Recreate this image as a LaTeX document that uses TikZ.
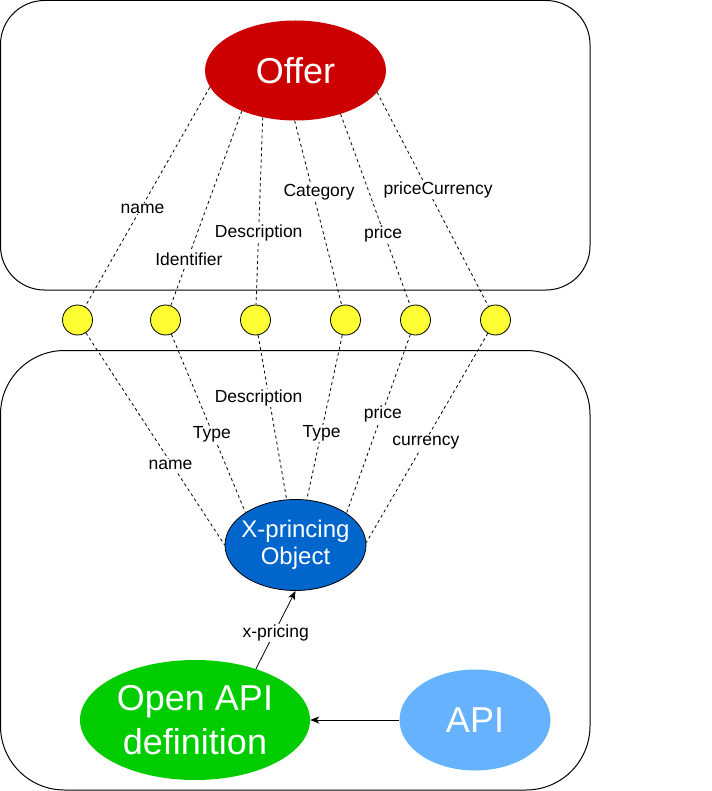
\documentclass[tikz,border=0pt]{standalone}
\usepackage{fontspec}
\setmainfont{Liberation Sans}
\usepackage{tikz}
\usetikzlibrary{shapes.geometric,arrows.meta,positioning}
\definecolor{offerred}{HTML}{CC0000}
\definecolor{pricingblue}{HTML}{0066CC}
\definecolor{openapigreen}{HTML}{00CC00}
\definecolor{apiblue}{HTML}{66B2FF}
\definecolor{dotyellow}{HTML}{FFFF33}

\begin{document}
\begin{tikzpicture}[x = 1pt, y = -1pt]
	\tikzstyle{every node} = [inner sep = 0pt]
	\tikzstyle{blob} = [ellipse, text = white, align = center]
	\tikzstyle{dot} = [circle, draw = black, fill = dotyellow, minimum size = 30pt, line width = 0.8pt]
	\tikzstyle{link} = [dash pattern = on 3pt off 3pt, line width = 0.8pt]
	\tikzstyle{lbl} = [fill = white, inner sep = 1pt, yshift = -3pt, font = \fontsize{17.5}{21}\selectfont]
	\useasboundingbox (0, 0) rectangle (711, 791);

% the two frames
	\draw[line width = 1pt, rounded corners = 44pt] (0.5, 0.5) rectangle (590, 290);
	\draw[line width = 1pt, rounded corners = 64pt] (0.5, 350.5) rectangle (590, 790);

\node[blob, fill = offerred, minimum width = 181pt, minimum height = 100pt, font = \fontsize{36}{43}\selectfont] (offer) at (295.5, 70.5) {Offer};
\node[blob, fill = pricingblue, draw = black, line width = 0.8pt, inner xsep = -5pt, minimum width = 141pt, minimum height = 91pt, font = \fontsize{24}{27.5}\selectfont] (xpo) at (295.5, 545) {X-princing\\Object};
\node[blob, fill = openapigreen, minimum width = 230pt, minimum height = 120pt, font = \fontsize{36}{44}\selectfont] (oad) at (195, 720) {Open API\\definition};
\node[blob, fill = apiblue, minimum width = 151pt, minimum height = 101pt, font = \fontsize{36}{43}\selectfont] (api) at (475, 720) {API};

\node[dot] (c1) at (77.5, 320) {};
\node[dot] (c2) at (165.5, 320) {};
\node[dot] (c3) at (255.5, 320) {};
\node[dot] (c4) at (345.5, 320) {};
\node[dot] (c5) at (415.5, 320) {};
\node[dot] (c6) at (495.5, 320) {};

% offer side
	\path[draw, link] (offer.191.6) -- (c1) node[lbl, pos = 0.54] {name};
	\path[draw, link] (offer.217.4) -- (c2) node[lbl, pos = 0.745] {Identifier};
	\path[draw, link] (offer.235.8) -- (c3) node[lbl, pos = 0.6] {Description};
	\path[draw, link] (offer.269.5) -- (c4) node[lbl, pos = 0.37, xshift = 7pt] {Category};
	\path[draw, link] (offer.316.3) -- (c5) node[lbl, pos = 0.61] {price};
	\path[draw, link] (offer.345.6) -- (c6) node[lbl, pos = 0.44, xshift = 12pt] {priceCurrency};

% pricing side
	\path[draw, link] (c1) -- (xpo.180) node[lbl, pos = 0.61] {name};
	\path[draw, link] (c2) -- (xpo.147.6) node[lbl, pos = 0.545] {Type};
	\path[draw, link] (c3) -- (xpo.101.7) node[lbl, pos = 0.366, xshift = -10pt] {Description};
	\path[draw, link] (c4) -- (xpo.76) node[lbl, pos = 0.58] {Type};
	\path[draw, link] (c5) -- (xpo.32.6) node[lbl, pos = 0.43] {price};
	\path[draw, link] (c6) -- (xpo.2) node[lbl, pos = 0.51] {currency};

	\path[draw, line width = 0.8pt, -{Stealth[length = 9pt, width = 7pt, inset = 2.5pt]}] (oad.40) -- (xpo.south) node[lbl, pos = 0.5] {x-pricing};
	\path[draw, line width = 0.8pt, -{Stealth[length = 9pt, width = 7pt, inset = 2.5pt]}] (api.west) -- (oad.east);
	\end{tikzpicture}
\end{document}
